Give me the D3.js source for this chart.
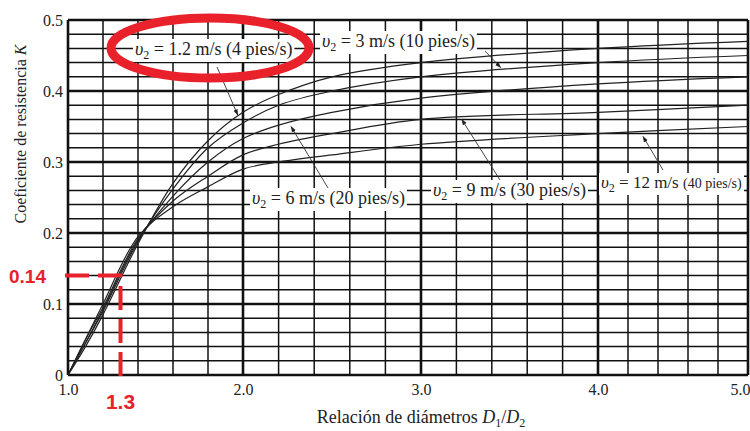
<!DOCTYPE html>
<html>
<head>
<meta charset="utf-8">
<script src="https://cdn.jsdelivr.net/npm/d3@7"></script>
<style>
  body { margin: 0; background: #fff; }
  svg { display: block; }
  text { font-family: "Liberation Serif", "DejaVu Serif", serif; fill: #222; }
</style>
</head>
<body>
<svg id="chart" width="750" height="431"></svg>
<script>
// diameter ratio D1/D2 where K was read
const ratios = [1.0, 1.1, 1.2, 1.4, 1.6, 1.8, 2.0, 2.2, 2.5, 3.0, 4.0, 5.0];

// K for each outlet velocity v2
const k1_2 = [0, 0.040, 0.085, 0.185, 0.270, 0.330, 0.370, 0.395, 0.420, 0.440, 0.460, 0.470];
const k3   = [0, 0.045, 0.090, 0.188, 0.262, 0.320, 0.355, 0.380, 0.400, 0.420, 0.440, 0.450];
const k6   = [0, 0.045, 0.092, 0.190, 0.252, 0.300, 0.333, 0.352, 0.370, 0.390, 0.410, 0.420];
const k9   = [0, 0.050, 0.095, 0.192, 0.245, 0.280, 0.310, 0.325, 0.340, 0.360, 0.370, 0.380];
const k12  = [0, 0.050, 0.100, 0.195, 0.237, 0.265, 0.290, 0.300, 0.310, 0.325, 0.340, 0.350];

const seriesNames = ['1.2 m/s (4 pies/s)', '3 m/s (10 pies/s)', '6 m/s (20 pies/s)', '9 m/s (30 pies/s)', '12 m/s (40 pies/s)'];
const seriesValues = [k1_2, k3, k6, k9, k12];

const xTicks = [1, 2, 3, 4, 5];
const yTicks = [0, 0.1, 0.2, 0.3, 0.4, 0.5];

// where each label points at its curve (D1/D2, K)
const arrowTips = [[1.97, 0.366], [3.45, 0.433], [2.27, 0.350], [3.23, 0.360], [4.3, 0.336]];

// the red reading marked on the chart
const markRatio = 1.3;
const markK = 0.14;

const svg = d3.select('#chart');
const plotLeft = 68, plotRight = 748, plotTop = 20, plotBottom = 375;

// the scan is a little stretched, so the x scale goes through each whole number
const x = d3.scaleLinear()
  .domain([1, 2, 3, 4, 5])
  .range([plotLeft, 243, 421, 598, plotRight]);

const y = d3.scaleLinear()
  .domain([0, 0.5])
  .range([plotBottom, plotTop]);

svg.append('rect').attr('width', 750).attr('height', 431).attr('fill', '#fff');

// grid
const grid = svg.append('g');
d3.range(0, 0.5001, 0.02).forEach(v => {
  const major = Math.abs(v * 10 - Math.round(v * 10)) < 1e-6;
  grid.append('line')
    .attr('x1', plotLeft).attr('x2', plotRight)
    .attr('y1', y(v)).attr('y2', y(v))
    .attr('stroke', '#111')
    .attr('stroke-width', major ? 2.6 : 1.5);
});
d3.range(1, 5.0001, 0.2).forEach(v => {
  const major = Math.abs(v - Math.round(v)) < 1e-6;
  grid.append('line')
    .attr('x1', x(v)).attr('x2', x(v))
    .attr('y1', plotTop).attr('y2', plotBottom)
    .attr('stroke', '#111')
    .attr('stroke-width', major ? 2.6 : 1.5);
});

// axes (labels only, the grid makes the lines)
const xAxis = d3.axisBottom(x).tickValues(xTicks).tickSize(0).tickPadding(9).tickFormat(d3.format('.1f'));
svg.append('g').attr('transform', `translate(0,${plotBottom})`).call(xAxis)
  .call(g => g.select('.domain').remove())
  .selectAll('text').attr('font-size', 16).attr('fill', '#333')
  .filter(d => d === 5).attr('text-anchor', 'end').attr('dx', 2);

const yAxis = d3.axisLeft(y).tickValues(yTicks).tickSize(0).tickPadding(5).tickFormat(d => d === 0 ? '0' : d3.format('.1f')(d));
svg.append('g').attr('transform', `translate(${plotLeft},0)`).call(yAxis)
  .call(g => g.select('.domain').remove())
  .selectAll('text').attr('font-size', 16).attr('fill', '#333');

// axis titles
const yTitle = svg.append('text')
  .attr('transform', 'translate(26,134) rotate(-90)')
  .attr('text-anchor', 'middle')
  .attr('font-size', 16);
yTitle.append('tspan').text('Coeficiente de resistencia ');
yTitle.append('tspan').attr('font-style', 'italic').text('K');

const xTitle = svg.append('text')
  .attr('x', 421).attr('y', 423)
  .attr('text-anchor', 'middle')
  .attr('font-size', 18);
xTitle.append('tspan').text('Relación de diámetros ');
xTitle.append('tspan').attr('font-style', 'italic').text('D');
xTitle.append('tspan').attr('font-size', 12).attr('dy', 4).text('1');
xTitle.append('tspan').attr('dy', -4).text('/');
xTitle.append('tspan').attr('font-style', 'italic').text('D');
xTitle.append('tspan').attr('font-size', 12).attr('dy', 4).text('2');

// curves
const line = d3.line()
  .x((d, i) => x(ratios[i]))
  .y(d => y(d))
  .curve(d3.curveCatmullRom.alpha(0.5));

svg.selectAll('.curve')
  .data(seriesValues)
  .join('path')
  .attr('class', 'curve')
  .attr('d', line)
  .attr('fill', 'none')
  .attr('stroke', '#222')
  .attr('stroke-width', 1.2);

// labels with leader arrows
svg.append('defs').append('marker')
  .attr('id', 'head')
  .attr('viewBox', '0 0 10 10')
  .attr('refX', 9).attr('refY', 5)
  .attr('markerWidth', 7).attr('markerHeight', 7)
  .attr('orient', 'auto')
  .append('path').attr('d', 'M0,1.5 L10,5 L0,8.5 Z').attr('fill', '#222');

const labelPos = [[135, 55], [322, 47], [252, 204], [433, 196], [601, 188]];
const tails = [[217, 67], [485, 51], [328, 188], [500, 180], [663, 170]];

seriesNames.forEach((name, i) => {
  const g = svg.append('g');
  const t = g.append('text')
    .attr('x', labelPos[i][0]).attr('y', labelPos[i][1])
    .attr('font-size', i === 4 ? 17 : 18);
  t.append('tspan').attr('font-style', 'italic').text('υ');
  t.append('tspan').attr('font-size', 12).attr('dy', 4).text('2');
  const rest = name.split(' (');
  t.append('tspan').attr('dy', -4).text(' = ' + rest[0] + ' ');
  t.append('tspan').attr('font-size', i === 4 ? 14 : 18).text('(' + rest[1]);
  const b = t.node().getBBox();
  g.insert('rect', 'text')
    .attr('x', b.x - 2).attr('y', b.y)
    .attr('width', b.width + 4).attr('height', b.height)
    .attr('fill', '#fff');

  svg.append('line')
    .attr('x1', tails[i][0]).attr('y1', tails[i][1])
    .attr('x2', x(arrowTips[i][0])).attr('y2', y(arrowTips[i][1]))
    .attr('stroke', '#333')
    .attr('stroke-width', 0.9)
    .attr('marker-end', 'url(#head)');
});

// red markings
const red = '#e8212b';
svg.append('ellipse')
  .attr('cx', 210).attr('cy', 48)
  .attr('rx', 99).attr('ry', 30)
  .attr('fill', 'none')
  .attr('stroke', red)
  .attr('stroke-width', 9);

svg.append('path')
  .attr('d', `M65,${y(markK)} H${x(markRatio)} V382`)
  .attr('fill', 'none')
  .attr('stroke', red)
  .attr('stroke-width', 4)
  .attr('stroke-dasharray', '24 9');

svg.append('text')
  .attr('x', 9).attr('y', y(markK) + 7)
  .style('font-family', '"Liberation Sans", Arial, sans-serif')
  .style('font-weight', 'bold')
  .style('font-size', '19px')
  .style('fill', red)
  .text('0.14');

svg.append('text')
  .attr('x', x(markRatio)).attr('y', 409)
  .attr('text-anchor', 'middle')
  .style('font-family', '"Liberation Sans", Arial, sans-serif')
  .style('font-weight', 'bold')
  .style('font-size', '21px')
  .style('fill', red)
  .text('1.3');
</script>
</body>
</html>
